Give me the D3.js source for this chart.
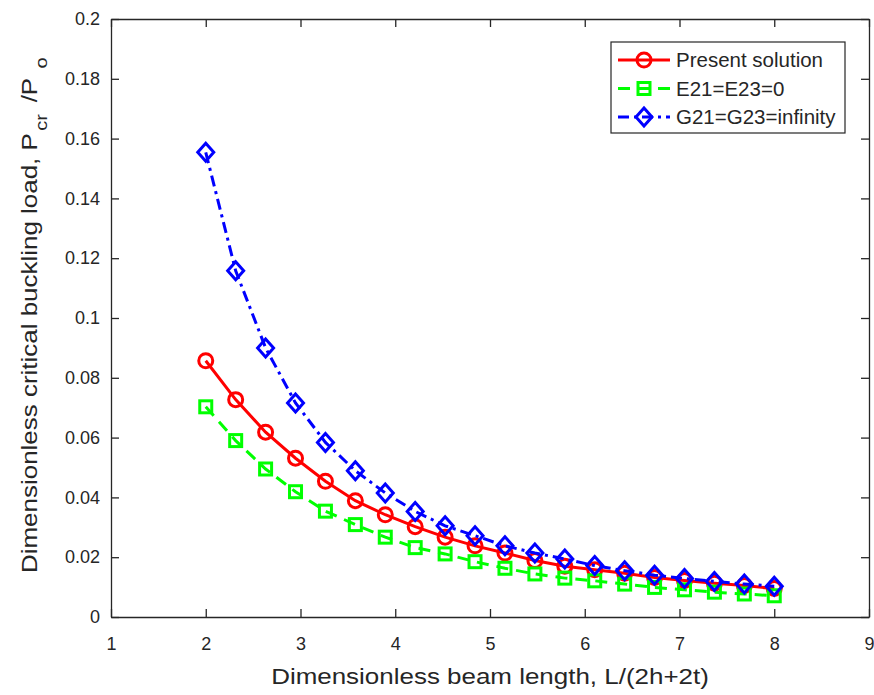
<!DOCTYPE html>
<html>
<head>
<meta charset="utf-8">
<script src="https://cdn.jsdelivr.net/npm/d3@7"></script>
<style>
  body { margin: 0; background: #fff; }
  text { font-family: "Liberation Sans", Arial, sans-serif; fill: #262626; }
</style>
</head>
<body>
<div id="chart"></div>
<script>
// beam length L/(2h+2t)
const lengths = [2, 2.3158, 2.6316, 2.9474, 3.2632, 3.5789, 3.8947, 4.2105, 4.5263, 4.8421,
  5.1579, 5.4737, 5.7895, 6.1053, 6.4211, 6.7368, 7.0526, 7.3684, 7.6842, 8]

const presentSolution = [0.0857, 0.0727, 0.0618, 0.0531, 0.0454, 0.0389, 0.0342, 0.0302, 0.0267, 0.0238,
  0.0214, 0.0189, 0.0170, 0.0158, 0.0146, 0.0132, 0.0122, 0.0113, 0.0105, 0.0095]
const e21Zero = [0.0703, 0.0590, 0.0495, 0.0419, 0.0354, 0.0309, 0.0267, 0.0232, 0.0211, 0.0185,
  0.0163, 0.0144, 0.0130, 0.0121, 0.0110, 0.0099, 0.0091, 0.0083, 0.0077, 0.0071]
const g21Infinity = [0.1554, 0.1158, 0.0900, 0.0716, 0.0584, 0.0489, 0.0415, 0.0353, 0.0305, 0.0272,
  0.0238, 0.0214, 0.0194, 0.0172, 0.0155, 0.0140, 0.0129, 0.0119, 0.0110, 0.0103]

const seriesNames = ["Present solution", "E21=E23=0", "G21=G23=infinity"]
const xTicks = [1, 2, 3, 4, 5, 6, 7, 8, 9]
const yTicks = [0, 0.02, 0.04, 0.06, 0.08, 0.1, 0.12, 0.14, 0.16, 0.18, 0.2]
const yTickLabels = ["0", "0.02", "0.04", "0.06", "0.08", "0.1", "0.12", "0.14", "0.16", "0.18", "0.2"]

const width = 874
const height = 695
const plotLeft = 111, plotRight = 869, plotTop = 19, plotBottom = 617
const tickLen = 8
const axisColor = "#262626"
const labelStretch = 1.18

const series = [
  { name: seriesNames[0], values: presentSolution, color: "#ff0000", dash: null, marker: "circle" },
  { name: seriesNames[1], values: e21Zero, color: "#00ff00", dash: "12,8", marker: "square" },
  { name: seriesNames[2], values: g21Infinity, color: "#0000ff", dash: "11,5,3,5", marker: "diamond" }
]

const x = d3.scaleLinear().domain([1, 9]).range([plotLeft, plotRight])
const y = d3.scaleLinear().domain([0, 0.2]).range([plotBottom, plotTop])

const svg = d3.select("#chart")
  .append("svg")
  .attr("width", width)
  .attr("height", height)

svg.append("rect").attr("width", width).attr("height", height).attr("fill", "#fff")

// axes (MATLAB style, ticks inside, box on)
const xAxis = svg.append("g")
  .attr("transform", `translate(0,${plotBottom})`)
  .call(d3.axisBottom(x).tickValues(xTicks).tickFormat(d3.format("d")).tickSizeInner(-tickLen).tickSizeOuter(0).tickPadding(20))
const xAxisTop = svg.append("g")
  .attr("transform", `translate(0,${plotTop})`)
  .call(d3.axisTop(x).tickValues(xTicks).tickFormat("").tickSizeInner(-tickLen).tickSizeOuter(0))
const yAxis = svg.append("g")
  .attr("transform", `translate(${plotLeft},0)`)
  .call(d3.axisLeft(y).tickValues(yTicks).tickFormat((d, i) => yTickLabels[i]).tickSizeInner(-tickLen).tickSizeOuter(0).tickPadding(11))
const yAxisRight = svg.append("g")
  .attr("transform", `translate(${plotRight},0)`)
  .call(d3.axisRight(y).tickValues(yTicks).tickFormat("").tickSizeInner(-tickLen).tickSizeOuter(0))

for (const g of [xAxis, xAxisTop, yAxis, yAxisRight]) {
  g.select(".domain").attr("stroke", axisColor).attr("stroke-width", 1.3)
  g.selectAll(".tick line").attr("stroke", axisColor).attr("stroke-width", 1.3)
  g.selectAll(".tick text").attr("fill", axisColor).style("font-size", "18px")
    .style("font-family", '"Liberation Sans", Arial, sans-serif')
}

// axis labels
svg.append("text")
  .attr("transform", `translate(${(plotLeft + plotRight) / 2},684) scale(${labelStretch},1)`)
  .attr("text-anchor", "middle")
  .style("font-size", "22px")
  .text("Dimensionless beam length, L/(2h+2t)")

const yl = svg.append("text")
  .attr("transform", `translate(37,573) rotate(-90) scale(${labelStretch},1)`)
  .attr("text-anchor", "start")
  .style("font-size", "22px")
yl.append("tspan").text("Dimensionless critical buckling load, P")
yl.append("tspan").attr("baseline-shift", "sub").attr("dx", 2).style("font-size", "17px").text("cr")
yl.append("tspan").attr("dx", 10).text("/P")
yl.append("tspan").attr("baseline-shift", "sub").attr("dx", 8).style("font-size", "17px").text("o")

function drawMarker(g, type, cx, cy, color) {
  if (type === "circle") {
    g.append("circle").attr("cx", cx).attr("cy", cy).attr("r", 7)
      .attr("fill", "none").attr("stroke", color).attr("stroke-width", 3)
  } else if (type === "square") {
    g.append("rect").attr("x", cx - 6).attr("y", cy - 6).attr("width", 12).attr("height", 12)
      .attr("fill", "none").attr("stroke", color).attr("stroke-width", 3)
  } else {
    g.append("path").attr("d", `M${cx},${cy - 9}L${cx + 8},${cy}L${cx},${cy + 9}L${cx - 8},${cy}Z`)
      .attr("fill", "none").attr("stroke", color).attr("stroke-width", 3)
  }
}

const line = d3.line()
  .x((d, i) => x(lengths[i]))
  .y(d => y(d))

const plot = svg.append("g")
series.forEach(s => {
  plot.append("path")
    .datum(s.values)
    .attr("d", line)
    .attr("fill", "none")
    .attr("stroke", s.color)
    .attr("stroke-width", 3)
    .attr("stroke-dasharray", s.dash)
  const mg = plot.append("g")
  s.values.forEach((v, i) => drawMarker(mg, s.marker, x(lengths[i]), y(v), s.color))
})

// legend
const legend = svg.append("g").attr("transform", "translate(611,42)")
legend.append("rect")
  .attr("width", 234).attr("height", 91)
  .attr("fill", "#fff").attr("stroke", axisColor).attr("stroke-width", 1.2)

series.forEach((s, i) => {
  const ly = 18 + i * 28.5
  legend.append("line")
    .attr("x1", 7).attr("x2", 59).attr("y1", ly).attr("y2", ly)
    .attr("stroke", s.color).attr("stroke-width", 3)
    .attr("stroke-dasharray", s.dash)
  drawMarker(legend, s.marker, 33, ly, s.color)
  legend.append("text")
    .attr("x", 65).attr("y", ly + 7)
    .style("font-size", "20.5px")
    .attr("fill", "#000")
    .text(s.name)
})
</script>
</body>
</html>
